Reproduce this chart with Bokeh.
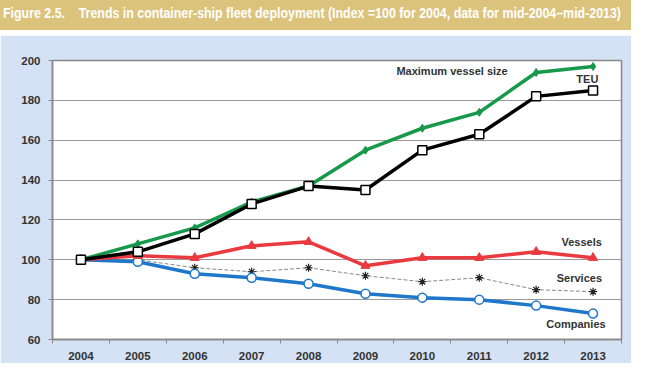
from bokeh.plotting import figure
from bokeh.models import Range1d, FixedTicker, Label, Div, ColumnDataSource
from bokeh.layouts import column
from bokeh.embed import file_html
from bokeh.resources import INLINE

years = [2004, 2005, 2006, 2007, 2008, 2009, 2010, 2011, 2012, 2013]
max_vessel_size = [100, 108, 116, 129, 137, 155, 166, 174, 194, 197]
teu = [100, 104, 113, 128, 137, 135, 155, 163, 182, 185]
vessels = [100, 102, 101, 107, 109, 97, 101, 101, 104, 101]
services = [100, 100, 96, 94, 96, 92, 89, 91, 85, 84]
companies = [100, 99, 93, 91, 88, 83, 81, 80, 77, 73]
y_ticks = [60, 80, 100, 120, 140, 160, 180, 200]

title_text = ("Figure 2.5.&nbsp;&nbsp;&nbsp; Trends in container-ship fleet deployment "
              "(Index =100 for 2004, data for mid-2004\u2013mid-2013)")

GOLD = "#dcc37c"
PANEL = "#d5e2f5"
TXT = "#333333"

title = Div(text=('<span style="display:inline-block;transform:scaleX(0.885);'
                  'transform-origin:left center;white-space:nowrap">' + title_text + '</span>'),
            width=631, height=30, margin=(0, 0, 0, 0),
            styles={"background-color": GOLD, "color": "white",
                    "font-family": "'Liberation Sans', Arial, sans-serif",
                    "font-size": "14px", "font-weight": "bold",
                    "line-height": "26px", "padding-left": "3px",
                    "white-space": "nowrap", "overflow": "hidden",
                    "width": "631px", "height": "30px", "box-sizing": "border-box"})

p = figure(width=631, height=328, output_backend="svg", toolbar_location=None,
           x_range=Range1d(2003.5, 2013.5), y_range=Range1d(60, 200),
           min_border_left=52, min_border_right=10, min_border_top=25, min_border_bottom=24,
           margin=(0, 0, 0, 0))
p.border_fill_color = PANEL
p.background_fill_color = "white"
p.outline_line_color = "#888888"
p.outline_line_width = 1.5

p.xgrid.visible = False
p.ygrid.grid_line_color = "#999999"
p.ygrid.grid_line_width = 1.2
p.ygrid.ticker = FixedTicker(ticks=y_ticks)

p.yaxis.ticker = FixedTicker(ticks=y_ticks)
p.xaxis.ticker = FixedTicker(ticks=years, minor_ticks=[y - 0.5 for y in years] + [2013.5])
for ax in (p.xaxis, p.yaxis):
    ax.axis_line_color = "#888888"
    ax.axis_line_width = 1.5
    ax.major_label_text_font = "Liberation Sans"
    ax.major_label_text_font_style = "bold"
    ax.major_label_text_font_size = "11.5px"
    ax.major_label_text_color = TXT
p.xaxis.major_tick_line_color = None
p.xaxis.minor_tick_line_color = "#888888"
p.xaxis.minor_tick_in = 0
p.xaxis.minor_tick_out = 4
p.xaxis.major_label_standoff = 6
p.yaxis.minor_tick_line_color = None
p.yaxis.major_tick_line_color = "#888888"
p.yaxis.major_tick_in = 0
p.yaxis.major_tick_out = 4
p.yaxis.major_label_standoff = 8

src = ColumnDataSource(dict(x=years, mvs=max_vessel_size, teu=teu, ves=vessels,
                            ser=services, com=companies))

# Services (thin dashed gray)
p.line("x", "ser", source=src, line_color="#888888", line_width=1, line_dash="4 2")
p.scatter("x", "ser", source=src, marker="asterisk", size=8, line_color="#222222", line_width=1.2)

# Companies (blue, open circles)
p.line("x", "com", source=src, line_color="#1f77c9", line_width=3.5)
p.scatter("x", "com", source=src, marker="circle", size=9, fill_color="white",
          line_color="#1f77c9", line_width=1.5)

# Vessels (red, triangles)
p.line("x", "ves", source=src, line_color="#ea3a3f", line_width=3.5)
p.scatter("x", "ves", source=src, marker="triangle", size=9, fill_color="#ea3a3f",
          line_color="#ea3a3f")

# Max vessel size (green, diamonds)
p.line("x", "mvs", source=src, line_color="#16994a", line_width=3.5)
p.scatter("x", "mvs", source=src, marker="diamond", size=8, fill_color="#16994a",
          line_color="#16994a")

# TEU (black, open squares)
p.line("x", "teu", source=src, line_color="black", line_width=3.5)
p.scatter("x", "teu", source=src, marker="square", size=9, fill_color="white",
          line_color="black", line_width=1.5)

def lab(x, y, t, align="center"):
    p.add_layout(Label(x=x, y=y, text=t, text_align=align, text_baseline="middle",
                       text_font="Liberation Sans", text_font_style="bold",
                       text_font_size="11px", text_color=TXT))

lab(2011.5, 194.5, "Maximum vessel size", "right")
lab(2012.9, 190.8, "TEU")
lab(2012.8, 108.8, "Vessels")
lab(2012.76, 90.7, "Services")
lab(2012.7, 67.8, "Companies")

spacer = Div(text="", width=631, height=5, margin=(0, 0, 0, 0))
layout = column(title, spacer, p, spacing=0, margin=(0, 0, 0, 0))
open("out.html", "w").write(file_html(layout, INLINE))
